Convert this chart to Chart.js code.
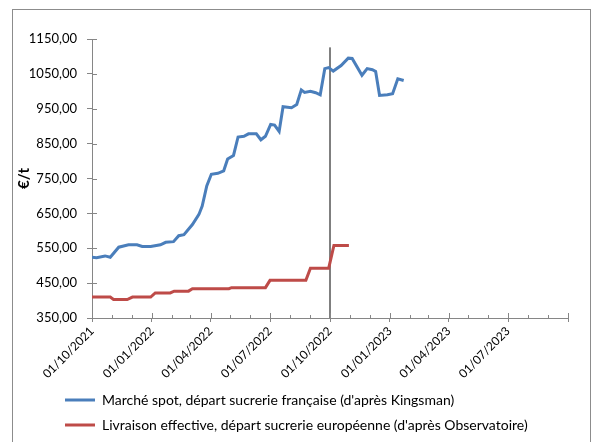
<!DOCTYPE html>
<html>
<head>
<meta charset="utf-8">
<script src="https://cdn.jsdelivr.net/npm/chart.js@4.4.1/dist/chart.umd.min.js"></script>
<style>
  html, body { margin: 0; padding: 0; background: #fff; }
  #wrap { position: relative; width: 595px; height: 442px; overflow: hidden; }
  #frame { position: absolute; left: 12px; top: 9px; width: 577px; height: 460px; border: 1px solid #8c8c8c; pointer-events: none; }
</style>
</head>
<body>
<div id="wrap">
  <canvas id="chart" width="595" height="442"></canvas>
  <div id="frame"></div>
</div>
<script>
// days counted from 01/10/2021
const tickDays = [0, 92, 182, 273, 365, 457, 547, 638, 730];
const tickLabels = ["01/10/2021", "01/01/2022", "01/04/2022", "01/07/2022", "01/10/2022",
  "01/01/2023", "01/04/2023", "01/07/2023", ""];
const monthDays = [0, 31, 61, 92, 123, 151, 182, 212, 243, 273, 304, 334, 365,
  396, 426, 457, 488, 516, 547, 577, 608, 638, 669, 699, 730];

// Marché spot (Kingsman)
const spotDays = [0, 7, 20, 28, 41, 56, 69, 77, 90, 105, 113, 125, 133, 141, 154, 164, 169, 176,
  183, 193, 202, 208, 217, 224, 233, 240, 252, 259, 266, 274, 280, 287, 293, 306, 314, 321, 326,
  335, 343, 350, 357, 363, 370, 382, 393, 399, 414, 422, 430, 435, 441, 453, 461, 469, 478];
const spotValues = [524, 523, 528, 524, 553, 560, 560, 555, 555, 560, 567, 569, 586, 589, 618, 647,
  671, 729, 762, 765, 772, 806, 816, 869, 871, 878, 878, 861, 871, 905, 903, 885, 956, 953, 962,
  1004, 997, 1000, 996, 990, 1065, 1068, 1058, 1074, 1095, 1094, 1046, 1065, 1062, 1057, 988, 990,
  993, 1036, 1031];

// Livraison effective (Observatoire)
const livDays = [0, 28, 33, 54, 62, 90, 97, 120, 126, 148, 154, 210, 214, 266, 273, 328, 335, 363, 371, 394];
const livValues = [410, 410, 403, 403, 410, 410, 422, 422, 427, 427, 434, 434, 437, 437, 458, 458, 493, 493, 558, 558];

// vertical marker at 01/10/2022
const markerDay = 365;
const markerRange = [350, 1126];

const blue = "#4a7ebb";
const red = "#be4b48";
const axisGrey = "#868686";
const font = "Lato, 'Liberation Sans', sans-serif";

function pts(xs, ys) { return xs.map((x, i) => ({ x: x, y: ys[i] })); }

// small inside tick marks (monthly on x, major on y)
const innerTicks = {
  id: "innerTicks",
  afterDatasetsDraw(chart) {
    const ctx = chart.ctx, x = chart.scales.x, y = chart.scales.y;
    ctx.save();
    ctx.strokeStyle = axisGrey;
    ctx.lineWidth = 1;
    ctx.beginPath();
    monthDays.forEach(d => {
      const px = Math.round(x.getPixelForValue(d)) + 0.5;
      const len = tickDays.includes(d) ? 5 : 3;
      ctx.moveTo(px, y.bottom);
      ctx.lineTo(px, y.bottom - len);
    });
    y.ticks.forEach(t => {
      const py = Math.round(y.getPixelForValue(t.value)) + 0.5;
      ctx.moveTo(x.left, py);
      ctx.lineTo(x.left + 5, py);
    });
    ctx.stroke();
    ctx.restore();
  }
};

// legend sits left-aligned under the plot
const legendShift = {
  id: "legendShift",
  afterLayout(chart) {
    chart.legend.left = 54;
  }
};

new Chart(document.getElementById("chart"), {
  type: "line",
  data: {
    datasets: [
      {
        label: "Marché spot, départ sucrerie française (d'après Kingsman)",
        data: pts(spotDays, spotValues),
        borderColor: blue,
        backgroundColor: blue,
        borderWidth: 3,
        pointRadius: 0,
        tension: 0
      },
      {
        label: "Livraison effective, départ sucrerie européenne (d'après Observatoire)",
        data: pts(livDays, livValues),
        borderColor: red,
        backgroundColor: red,
        borderWidth: 3,
        pointRadius: 0,
        tension: 0
      },
      {
        label: "marker",
        data: markerRange.map(v => ({ x: markerDay, y: v })),
        borderColor: "#000",
        borderWidth: 1,
        pointRadius: 0
      }
    ]
  },
  options: {
    responsive: false,
    animation: false,
    layout: { padding: { left: 12, right: 27, top: 39, bottom: 0 } },
    plugins: {
      tooltip: { enabled: false },
      legend: {
        position: "bottom",
        align: "start",
        labels: {
          usePointStyle: true,
          pointStyle: "line",
          pointStyleWidth: 30,
          padding: 11,
          color: "#000",
          font: { family: font, size: 14 },
          filter: item => item.datasetIndex < 2
        }
      }
    },
    scales: {
      x: {
        type: "linear",
        min: 0,
        max: 730,
        afterBuildTicks: s => { s.ticks = tickDays.map(v => ({ value: v })); },
        afterFit: s => { s.height = 64; },
        ticks: {
          autoSkip: false,
          minRotation: 45,
          maxRotation: 45,
          padding: 2,
          color: "#000",
          font: { family: font, size: 12 },
          callback: (v, i) => tickLabels[i]
        },
        grid: { drawOnChartArea: false, tickLength: 4, color: axisGrey },
        border: { color: axisGrey }
      },
      y: {
        min: 350,
        max: 1150,
        afterFit: s => { s.width = 80; },
        ticks: {
          stepSize: 100,
          padding: 10,
          color: "#000",
          font: { family: font, size: 13 },
          callback: v => v.toFixed(2).replace(".", ",")
        },
        title: {
          display: true,
          text: "€/t",
          color: "#000",
          font: { family: font, size: 15, weight: "bold" },
          padding: { top: 3, bottom: 0 }
        },
        grid: { drawOnChartArea: false, tickLength: 5, color: axisGrey },
        border: { color: axisGrey }
      }
    }
  },
  plugins: [innerTicks, legendShift]
});
</script>
</body>
</html>
